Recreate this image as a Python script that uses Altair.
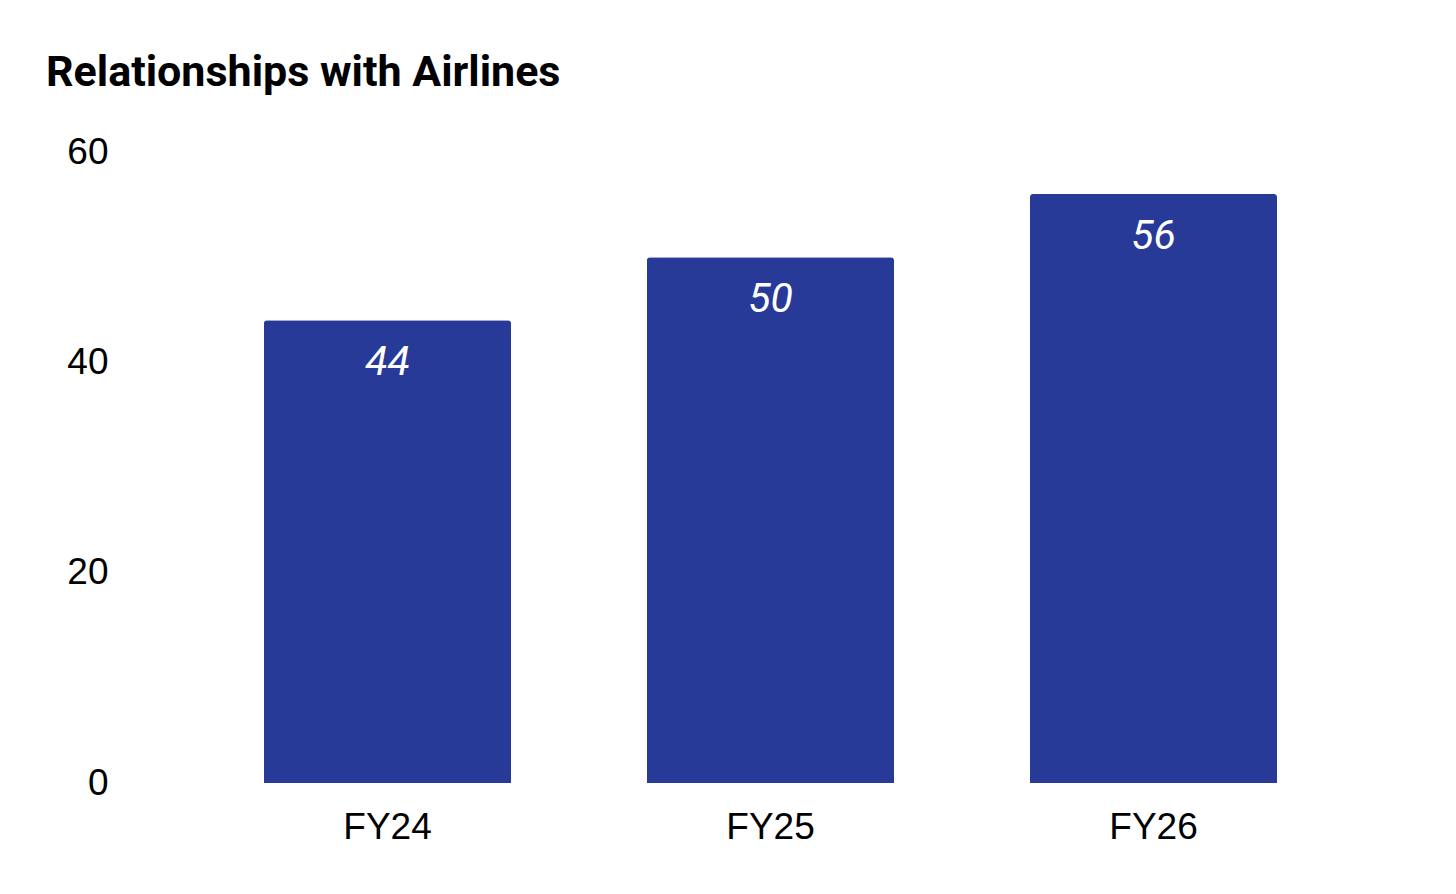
import altair as alt
import pandas as pd

categories = ["FY24", "FY25", "FY26"]
values = [44, 50, 56]

df = pd.DataFrame({"year": categories, "value": values})

bar_color = "#283A97"

base = alt.Chart(df).encode(
    x=alt.X("year:N", sort=categories,
            scale=alt.Scale(paddingInner=0.355, paddingOuter=0.1775),
            axis=alt.Axis(title=None, labelAngle=0, labelFont="Liberation Sans",
                          labelFontSize=37, labelColor="#000000", labelPadding=26,
                          ticks=False, domain=False, grid=False)),
    y=alt.Y("value:Q", scale=alt.Scale(domain=[0, 60], nice=False),
            axis=alt.Axis(title=None, values=[0, 20, 40, 60], labelFont="Liberation Sans",
                          labelFontSize=37, labelColor="#000000", labelPadding=88,
                          ticks=False, tickSize=0, domain=False, grid=False)),
)

bars = base.mark_bar(color=bar_color, cornerRadiusTopLeft=3, cornerRadiusTopRight=3)

labels = base.mark_text(font="Roboto", fontStyle="italic", fontSize=41, color="white",
                        baseline="middle", dy=43).encode(text="value:Q")

chart = (bars + labels).properties(
    width=1149, height=631,
    autosize=alt.AutoSizeParams(type="none"),
    padding={"left": 188, "top": 144, "right": 10, "bottom": 100},
    title=alt.TitleParams("Relationships with Airlines", font="Roboto", fontWeight="bold",
                          fontSize=43, color="#000000", anchor="start", frame="group",
                          dx=-150, baseline="alphabetic", offset=4),
).configure(background="white").configure_view(strokeWidth=0)

chart.save("out.html", embed_options={"renderer": "svg", "actions": False})
